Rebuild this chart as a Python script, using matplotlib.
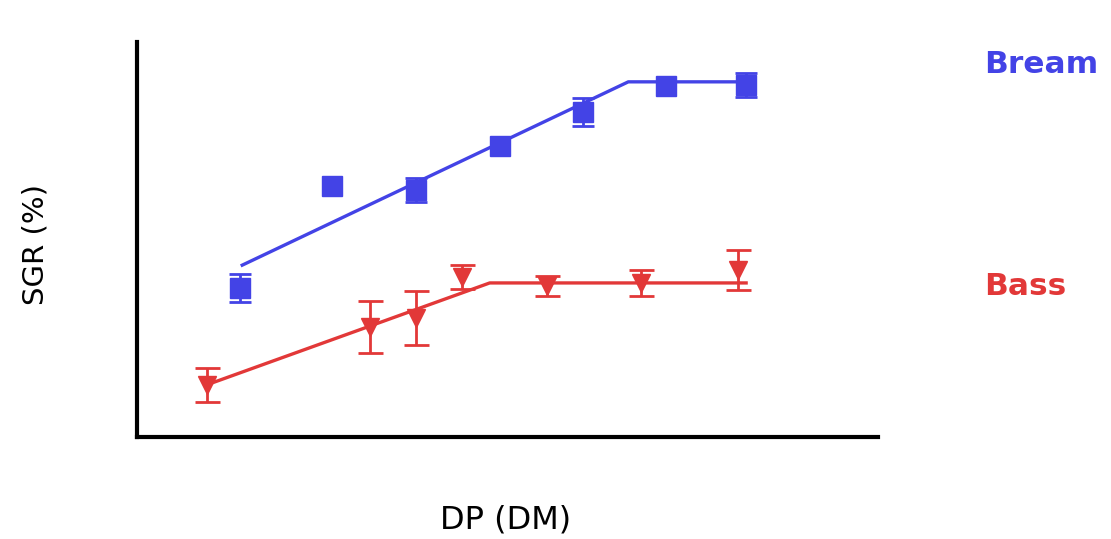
import matplotlib.pyplot as plt

nan = float("nan")

# Bream (blue squares) measured points and error
bream_x = [13.9, 26.3, 37.7, 49.0, 60.2, 71.4, 82.2]
bream_y = [37.7, 63.5, 62.5, 73.7, 82.3, 88.9, 89.1]
bream_err = [3.5, nan, 3.0, nan, 3.5, nan, 3.0]
# Bream broken-line fit
bream_fit_x = [14.2, 66.3, 82.2]
bream_fit_y = [43.5, 89.9, 89.9]

# Bass (red triangles) measured points and error
bass_x = [9.4, 31.4, 37.7, 43.9, 55.3, 68.0, 81.1]
bass_y = [13.2, 27.8, 30.1, 40.5, 38.2, 39.0, 42.3]
bass_err = [4.3, 6.6, 6.8, 3.0, 2.5, 3.3, 5.1]
# Bass broken-line fit
bass_fit_x = [9.4, 47.6, 82.2]
bass_fit_y = [13.2, 39.0, 39.0]

blue = "#4343e6"
red = "#e23838"

fig = plt.figure(figsize=(11.11, 5.39), dpi=100)
ax = fig.add_axes([0.1233, 0.1892, 0.667, 0.733])

ax.plot(bream_fit_x, bream_fit_y, color=blue, lw=2.4, zorder=2)
ax.errorbar(bream_x, bream_y, yerr=bream_err, fmt="s", color=blue, ms=15,
            elinewidth=2, capsize=8, capthick=2, zorder=3)

ax.plot(bass_fit_x, bass_fit_y, color=red, lw=2.4, zorder=2)
ax.errorbar(bass_x, bass_y, yerr=bass_err, fmt="v", color=red, ms=13,
            elinewidth=2, capsize=9, capthick=2, zorder=3)

ax.set_xlim(0, 100)
ax.set_ylim(0, 100)
ax.set_xticks([])
ax.set_yticks([])
for side in ["top", "right"]:
    ax.spines[side].set_visible(False)
for side in ["left", "bottom"]:
    ax.spines[side].set_linewidth(3)

fig.text(0.4555, 0.035, "DP (DM)", ha="center", va="center", fontsize=23)
fig.text(0.032, 0.547, "SGR (%)", ha="center", va="center", rotation=90, fontsize=21)

fig.text(0.886, 0.88, "Bream", color=blue, fontsize=22.5, fontweight="bold", va="center", ha="left")
fig.text(0.886, 0.468, "Bass", color=red, fontsize=22.5, fontweight="bold", va="center", ha="left")

fig.savefig("out.png", dpi=100)
